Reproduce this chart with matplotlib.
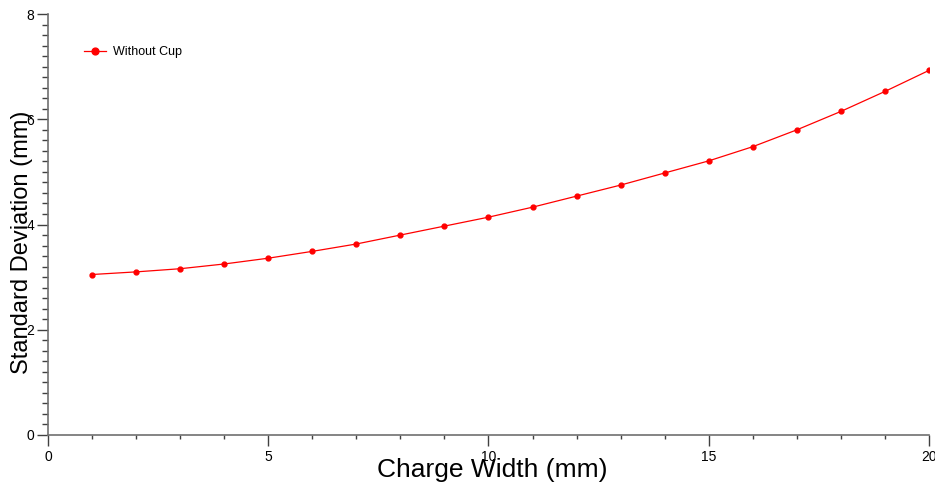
import numpy as np
import matplotlib
matplotlib.use('Agg')
import matplotlib.pyplot as plt
from matplotlib.ticker import MultipleLocator

plt.rcParams['font.family'] = ['Liberation Sans', 'DejaVu Sans']

charge_width = [1, 2, 3, 4, 5, 6, 7, 8, 9, 10, 11, 12, 13, 14, 15, 16, 17, 18, 19, 20]
std_dev = [3.05, 3.10, 3.16, 3.25, 3.36, 3.49, 3.63, 3.80, 3.97, 4.14,
           4.33, 4.54, 4.75, 4.98, 5.21, 5.48, 5.80, 6.15, 6.53, 6.93]
series_name = 'Without Cup'

fig = plt.figure(figsize=(9.35, 4.86), dpi=100)
ax = fig.add_axes([0.0513, 0.105, 0.9423, 0.866])

ax.plot(charge_width, std_dev, color='red', lw=0.9, marker='o', ms=3.5,
        label=series_name)

ax.set_xlim(0, 20)
ax.set_ylim(0, 8)
ax.xaxis.set_major_locator(MultipleLocator(5))
ax.xaxis.set_minor_locator(MultipleLocator(1))
ax.yaxis.set_major_locator(MultipleLocator(2))
ax.yaxis.set_minor_locator(MultipleLocator(0.2))

for s in ['top', 'right']:
    ax.spines[s].set_visible(False)
for s in ['left', 'bottom']:
    ax.spines[s].set_color('#707070')
    ax.spines[s].set_linewidth(1.2)

ax.tick_params(which='major', length=8, width=1, color='#404040', labelsize=10)
ax.tick_params(which='minor', length=4, width=1, color='#404040')
ax.tick_params(axis='x', which='minor', length=3)
ax.tick_params(axis='x', pad=3)
ax.tick_params(axis='y', pad=2)

ax.set_xlabel('Charge Width (mm)', fontsize=19)
ax.set_ylabel('Standard Deviation (mm)', fontsize=17)
ax.xaxis.set_label_coords(0.504, -0.055)
ax.yaxis.set_label_coords(-0.017, 0.458)

ax.legend(loc='upper left', bbox_to_anchor=(0.028, 0.95), frameon=False,
          fontsize=9, handlelength=1.8, handletextpad=0.5, markerscale=1.4)

fig.savefig('out.png', dpi=100)
